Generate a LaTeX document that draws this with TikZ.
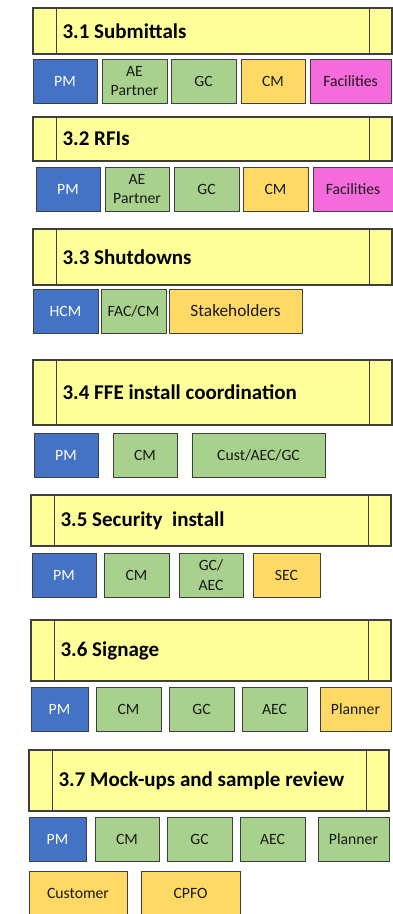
\documentclass[tikz,border=0pt]{standalone}
\usepackage{fontspec}
\setmainfont{Carlito}
\definecolor{hdrfill}{HTML}{FFFF99}
\definecolor{pmblue}{HTML}{4472C4}
\definecolor{rolegreen}{HTML}{A9D18E}
\definecolor{roleorange}{HTML}{FFD966}
\definecolor{rolepink}{HTML}{F56BDB}
\definecolor{edgegray}{HTML}{3F3F3F}
\tikzset{
  hdr/.style={draw=edgegray, line width=1.2pt, fill=hdrfill, rectangle, minimum width=359pt, inner sep=0pt},
  hdrtitle/.style={anchor=west, inner sep=0pt, font=\fontsize{21}{25}\selectfont\bfseries, text=black},
  rolebox/.style={draw=edgegray, line width=1pt, rectangle, minimum height=44pt, inner sep=0pt, align=center,
    font=\fontsize{15.7}{19.2}\selectfont, text=black!90},
  blue/.style={rolebox, fill=pmblue, text=white},
  green/.style={rolebox, fill=rolegreen},
  orange/.style={rolebox, fill=roleorange},
  pink/.style={rolebox, fill=rolepink},
}
% header bar with two inner divider lines and a bold title
\newcommand{\headerbar}[5]{% name, center, height, width, title
  \node[hdr, minimum height=#3, minimum width=#4] (#1) at #2 {};
  \draw[edgegray, line width=1.2pt] ([xshift=24pt]#1.north west) -- ([xshift=24pt]#1.south west);
  \draw[edgegray, line width=1.2pt] ([xshift=-23pt]#1.north east) -- ([xshift=-23pt]#1.south east);
  \node[hdrtitle] (#1t) at ([xshift=30pt]#1.west) {#5};
}
\begin{document}
\begin{tikzpicture}[x=1pt, y=-1pt]
\useasboundingbox (0,0) rectangle (393,914);

% 3.1
\headerbar{h1}{(212.5,31)}{46pt}{359pt}{3.1 Submittals}
\node[blue,   minimum width=64pt] (a1) at (65,81) {PM};
\node[green,  minimum width=65pt] (a2) at (134.5,81) {AE\\Partner};
\node[green,  minimum width=65pt] (a3) at (203.5,81) {GC};
\node[orange, minimum width=64pt] (a4) at (273,81) {CM};
\node[pink,   minimum width=81pt] (a5) at (350.5,81) {Facilities};

% 3.2
\headerbar{h2}{(212.5,139)}{44pt}{359pt}{3.2 RFIs}
\node[blue,   minimum width=64pt] (b1) at (68,189) {PM};
\node[green,  minimum width=64pt] (b2) at (137,189) {AE\\Partner};
\node[green,  minimum width=65pt] (b3) at (206.5,189) {GC};
\node[orange, minimum width=65pt] (b4) at (275.5,189) {CM};
\node[pink,   minimum width=80pt] (b5) at (353,189) {Facilities};

% 3.3
\headerbar{h3}{(212.5,257)}{56pt}{359pt}{3.3 Shutdowns}
\node[blue,   minimum width=65pt] (c1) at (65.5,311) {HCM};
\node[green,  minimum width=65pt] (c2) at (133.5,311) {FAC/CM};
\node[orange, minimum width=133pt, font=\fontsize{17.3}{20}\selectfont] (c3) at (235.5,311) {Stakeholders};

% 3.4
\headerbar{h4}{(212.5,392.5)}{65pt}{359pt}{3.4 FFE install coordination}
\node[blue,   minimum width=64pt] (d1) at (66,455) {PM};
\node[green,  minimum width=64pt] (d2) at (145,455) {CM};
\node[green,  minimum width=133pt] (d3) at (258.5,455) {Cust/AEC/GC};

% 3.5
\headerbar{h5}{(211,520.5)}{51pt}{360pt}{3.5 Security\ \ install}
\node[blue,   minimum width=64pt] (e1) at (64,575) {PM};
\node[green,  minimum width=65pt] (e2) at (136.5,575) {CM};
\node[green,  minimum width=64pt] (e3) at (211,575) {GC/\\AEC};
\node[orange, minimum width=67pt] (e4) at (286.5,575) {SEC};

% 3.6
\headerbar{h6}{(211,650.5)}{61pt}{360pt}{3.6 Signage}
\node[blue,   minimum width=57pt] (f1) at (59.5,709) {PM};
\node[green,  minimum width=65pt] (f2) at (128.5,709) {CM};
\node[green,  minimum width=65pt] (f3) at (201.5,709) {GC};
\node[green,  minimum width=65pt] (f4) at (274.5,709) {AEC};
\node[orange, minimum width=71pt] (f5) at (355.5,709) {Planner};

% 3.7
\headerbar{h7}{(209,780.5)}{61pt}{360pt}{3.7 Mock-ups and sample review}
\node[blue,   minimum width=57pt] (g1) at (57.5,839) {PM};
\node[green,  minimum width=64pt] (g2) at (127,839) {CM};
\node[green,  minimum width=65pt] (g3) at (199.5,839) {GC};
\node[green,  minimum width=65pt] (g4) at (272.5,839) {AEC};
\node[green,  minimum width=71pt] (g5) at (353.5,839) {Planner};
\node[orange, minimum width=98pt] (g6) at (78,893) {Customer};
\node[orange, minimum width=99pt] (g7) at (190.5,893) {CPFO};
\end{tikzpicture}
\end{document}
